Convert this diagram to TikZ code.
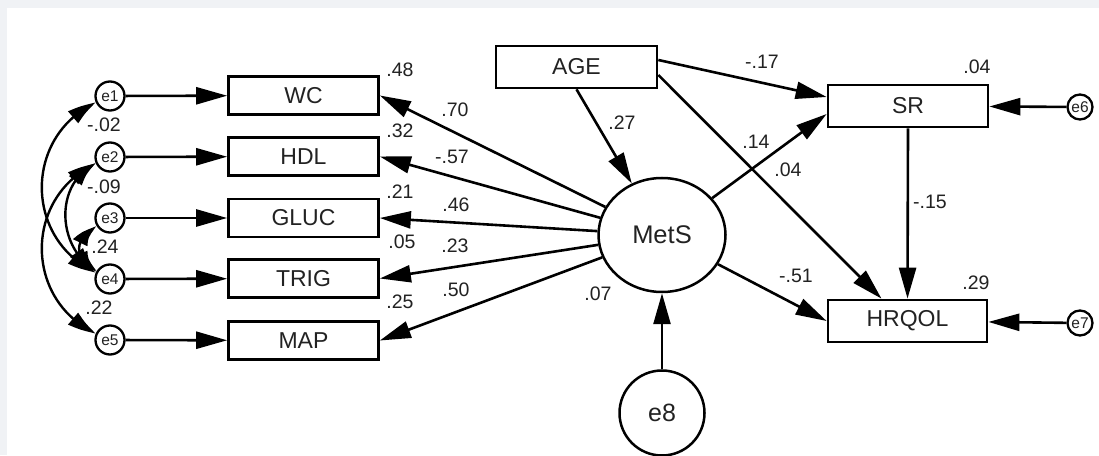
\documentclass[tikz,border=0pt]{standalone}
\usepackage{fontspec}
\setmainfont{Liberation Sans}
\usetikzlibrary{arrows.meta,shapes.geometric,bending}
\definecolor{bggray}{HTML}{F0F2F5}
\definecolor{txt}{HTML}{222222}
\begin{document}
\begin{tikzpicture}[x=1pt,y=1pt,
  box/.style={draw=black, line width=2.7pt, minimum height=38pt, inner sep=0pt, font=\fontsize{23}{25}\selectfont, text=txt},
  err/.style={circle, draw=black, line width=2.3pt, minimum size=29pt, inner sep=0pt, font=\fontsize{15.5}{16}\selectfont, text=txt},
  lbl/.style={inner sep=0pt, font=\fontsize{19.5}{21}\selectfont, text=txt},
  path/.style={draw=black, line width=2.6pt, -{Triangle[length=31pt,width=17pt]}},
  cov/.style={draw=black, line width=2.4pt, {Triangle[length=28pt,width=15pt,bend]}-{Triangle[length=28pt,width=15pt,bend]}}
]
\useasboundingbox (0,0) rectangle (1099,455);
\fill[bggray] (0,0) rectangle (1099,455);
\fill[white] (7,0) rectangle (1099,447);

% error terms of indicators
\node[err] (e1) at (110,359) {e1};
\node[err] (e2) at (110,298) {e2};
\node[err] (e3) at (110,237) {e3};
\node[err] (e4) at (110,176) {e4};
\node[err] (e5) at (110,115) {e5};

% indicators
\node[box, minimum width=150pt] (wc) at (303.5,359.5) {WC};
\node[box, minimum width=150pt] (hdl) at (303.5,298.5) {HDL};
\node[box, minimum width=150pt] (gluc) at (303.5,237) {GLUC};
\node[box, minimum width=150pt] (trig) at (303.5,176.5) {TRIG};
\node[box, minimum width=150pt] (map) at (303.5,114.5) {MAP};

% others
\node[box, minimum width=161pt, minimum height=42pt] (age) at (576.5,388) {AGE};
\node[ellipse, draw=black, line width=2.5pt, minimum width=127pt, minimum height=114pt, inner sep=0pt, font=\fontsize{25.5}{27}\selectfont, text=txt] (mets) at (662,220) {MetS};
\node[circle, draw=black, line width=2.5pt, minimum size=85pt, inner sep=0pt, font=\fontsize{25}{26}\selectfont, text=txt] (e8) at (662,42) {e8};
\node[box, minimum width=160pt, minimum height=42pt] (sr) at (908,349) {SR};
\node[box, minimum width=159pt, minimum height=42pt] (hrqol) at (907.5,134) {HRQOL};
\node[err, minimum size=25pt] (e6) at (1080,348) {e6};
\node[err, minimum size=25pt] (e7) at (1080,132) {e7};

% error -> indicator
\draw[path] (e1) -- (wc);
\draw[path] (e2) -- (hdl);
\draw[path] (e3) -- (gluc);
\draw[path] (e4) -- (trig);
\draw[path] (e5) -- (map);

% MetS -> indicators
\draw[path] (mets) -- (wc.east);
\draw[path] (mets) -- (hdl.east);
\draw[path] (mets) -- (gluc.east);
\draw[path] (mets) -- (trig.east);
\draw[path] (mets) -- (map.east);

% structural paths
\draw[path] (age.south) -- (mets);
\draw[path] ([yshift=7pt]age.east) -- ([yshift=9pt]sr.west);
\draw[path] ([yshift=-8pt]age.east) -- ([xshift=-26pt]hrqol.north);
\draw[path] (mets) -- ([yshift=-8pt]sr.west);
\draw[path] (mets) -- (hrqol.west);
\draw[path] (sr.south) -- (hrqol.north);
\draw[path] (e8) -- (mets);
\draw[path] (e6) -- (sr);
\draw[path] (e7) -- (hrqol);

% covariances
\draw[cov] (e1) to[out=205,in=155,looseness=1.2] (e4);
\draw[cov] (e2) to[out=205,in=155,looseness=1.2] (e5);
\draw[cov] (e2) to[out=205,in=150,looseness=1.1] (e4);
\draw[cov] (e3) to[out=212,in=148,looseness=1.6] (e4);

% labels
\node[lbl] (l48) at (400,385) {.48};
\node[lbl] (l32) at (400,324) {.32};
\node[lbl] (l21) at (400,263) {.21};
\node[lbl] (l05) at (402,213) {.05};
\node[lbl] (l25) at (400,153) {.25};
\node[lbl] (l70) at (455,345) {.70};
\node[lbl] (l57) at (452,298) {-.57};
\node[lbl] (l46) at (456,250) {.46};
\node[lbl] (l23) at (455,209) {.23};
\node[lbl] (l50) at (456,165) {.50};
\node[lbl] (l27) at (622,332) {.27};
\node[lbl] (l17) at (762,393) {-.17};
\node[lbl] (l04a) at (977,388) {.04};
\node[lbl] (l14) at (756,313) {.14};
\node[lbl] (l04b) at (788,285) {.04};
\node[lbl] (l15) at (930,253) {-.15};
\node[lbl] (l51) at (796,179) {-.51};
\node[lbl] (l29) at (976,172) {.29};
\node[lbl] (l07) at (598,161) {.07};
\node[lbl] (l02) at (104,330) {-.02};
\node[lbl] (l09) at (104,268) {-.09};
\node[lbl] (l24) at (105,208) {.24};
\node[lbl] (l22) at (99,147) {.22};
\end{tikzpicture}
\end{document}
